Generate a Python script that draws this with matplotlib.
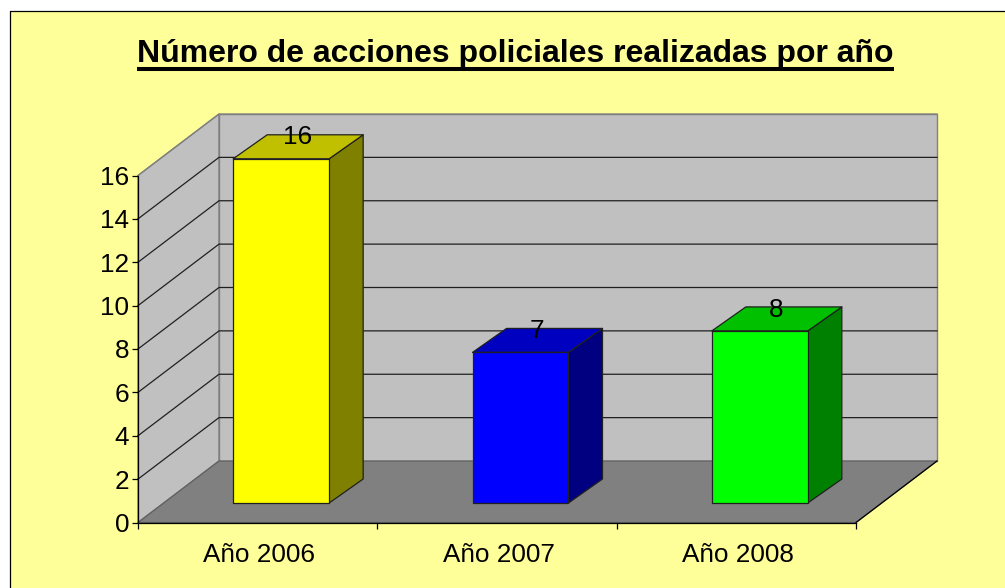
import matplotlib
matplotlib.use('Agg')
import matplotlib.pyplot as plt
from matplotlib.patches import Polygon, Rectangle
from matplotlib.lines import Line2D
from matplotlib.transforms import ScaledTranslation

plt.rcParams['font.family'] = ['Liberation Sans', 'DejaVu Sans']

title = 'Número de acciones policiales realizadas por año'
categories = ['Año 2006', 'Año 2007', 'Año 2008']
values = [16, 7, 8]
y_ticks = [0, 2, 4, 6, 8, 10, 12, 14, 16]
face_colors = ['#FFFF00', '#0000FF', '#00FF00']
side_colors = ['#808000', '#000080', '#008000']
top_colors = ['#C0C000', '#0000C0', '#00C000']

W, H = 1005, 588
X0, X1, Y0, Y16 = 138, 856, 522.5, 175.5   # front plane, pixels
DX, DY = 81, 61.5                          # depth offset, pixels
BAR_W = 0.401
D_FRONT, D_BACK = 0.317, 0.707
DX_FRONT, DX_BACK = 0.29, 0.71             # bars lean a bit more sideways than the walls
BAR_SCALE = 0.992

fig = plt.figure(figsize=(W / 100, H / 100), dpi=100, facecolor='white')
fig.add_artist(Rectangle((9.5 / W, 0), 1, 1 - 10.5 / H, transform=fig.transFigure,
                         facecolor='#FFFF99', edgecolor='none', zorder=-2))
fig.add_artist(Line2D([9.5 / W, 9.5 / W, 1], [0, 1 - 10.5 / H, 1 - 10.5 / H],
                      transform=fig.transFigure, color='black', lw=0.9, zorder=-1))

ax = fig.add_axes([X0 / W, 1 - Y0 / H, (X1 - X0) / W, (Y0 - Y16) / H])
ax.set_xlim(0, 3)
ax.set_ylim(0, 16)
ax.patch.set_visible(False)
for s in ['top', 'right']:
    ax.spines[s].set_visible(False)
for s in ['left', 'bottom']:
    ax.spines[s].set_linewidth(0.9)
    ax.spines[s].set_zorder(2.5)

ddx = DX / ((X1 - X0) / 3)
ddy = DY / ((Y0 - Y16) / 16)


def proj(x, y, d, dx=None):
    # oblique projection, d=0 front plane, d=1 back wall
    if dx is None:
        dx = d
    return (x + dx * ddx, y + d * ddy)


def poly(points, fc, ec='none', lw=0.0, z=1):
    ax.add_patch(Polygon(points, closed=True, facecolor=fc, edgecolor=ec,
                         linewidth=lw, clip_on=False, zorder=z, joinstyle='round'))


# walls and floor
top = y_ticks[-1]
poly([proj(0, 0, 0), proj(0, top, 0), proj(0, top, 1), proj(0, 0, 1)], '#C0C0C0', '#808080', 1.0)
poly([proj(0, 0, 1), proj(0, top, 1), proj(3, top, 1), proj(3, 0, 1)], '#C0C0C0', '#808080', 1.0)
poly([proj(0, 0, 0), proj(3, 0, 0), proj(3, 0, 1), proj(0, 0, 1)], '#808080', '#606060', 0.9, z=1.2)

# grid lines on the walls
for t in y_ticks[1:]:
    lc = '#808080' if t == top else '#202020'
    a, b, c = proj(0, t, 0), proj(0, t, 1), proj(3, t, 1)
    ax.plot([a[0], b[0], c[0]], [a[1], b[1], c[1]], color=lc, lw=0.9, zorder=1.1,
            clip_on=False, solid_joinstyle='miter')
a, b = proj(3, 0, 0), proj(3, 0, 1)
ax.plot([a[0], b[0]], [a[1], b[1]], color='black', lw=0.9, zorder=1.3, clip_on=False)

# bars
for i, v in enumerate(values):
    h = v * BAR_SCALE
    x_l = i + 0.5 - BAR_W / 2
    x_r = i + 0.5 + BAR_W / 2
    fl = proj(x_l, 0, D_FRONT, DX_FRONT)[0]
    fr = proj(x_r, 0, D_FRONT, DX_FRONT)[0]
    bl = proj(x_l, 0, D_BACK, DX_BACK)[0]
    br = proj(x_r, 0, D_BACK, DX_BACK)[0]
    y_f = D_FRONT * ddy
    y_b = D_BACK * ddy
    poly([(fr, y_f), (fr, h + y_f), (br, h + y_b), (br, y_b)], side_colors[i], '#202020', 0.9, z=3)
    poly([(fl, h + y_f), (fr, h + y_f), (br, h + y_b), (bl, h + y_b)], top_colors[i], '#202020', 0.9, z=3)
    poly([(fl, y_f), (fr, y_f), (fr, h + y_f), (fl, h + y_f)], face_colors[i], '#202020', 0.9, z=3.1)
    lx, ly = proj(i + 0.5, h, (D_FRONT + D_BACK) / 2, (DX_FRONT + DX_BACK) / 2)
    ax.annotate(str(v), (lx, ly), xytext=(-0.7, 6.7), textcoords='offset points', ha='center',
                va='center', fontsize=18.8, color='black', zorder=4, annotation_clip=False)

# axes
ax.set_yticks(y_ticks)
ax.tick_params(axis='y', length=4.3, width=0.9, pad=2, labelsize=18.8)
ax.set_xticks([0, 1, 2, 3])
ax.set_xticklabels([])
ax.tick_params(axis='x', length=4.3, width=0.9)
ax.set_xticks([0.5, 1.5, 2.5], minor=True)
ax.set_xticklabels(categories, minor=True, fontsize=18.8)
ax.tick_params(axis='x', which='minor', length=0, pad=14.6)
shift = ScaledTranslation(1.5 / 100, 0, fig.dpi_scale_trans)
for lab in ax.get_xticklabels(minor=True):
    lab.set_transform(lab.get_transform() + shift)

# title with underline
t = fig.text(515.5 / W, 1 - 54 / H, title, ha='center', va='center', fontsize=23.0,
             fontweight='bold', color='black')
fig.canvas.draw()
bb = t.get_window_extent()
fig.add_artist(Line2D([bb.x0 / W, bb.x1 / W], [1 - 69 / H, 1 - 69 / H], transform=fig.transFigure,
                      color='black', lw=2.9, solid_capstyle='butt'))

fig.savefig('out.png', dpi=100)
